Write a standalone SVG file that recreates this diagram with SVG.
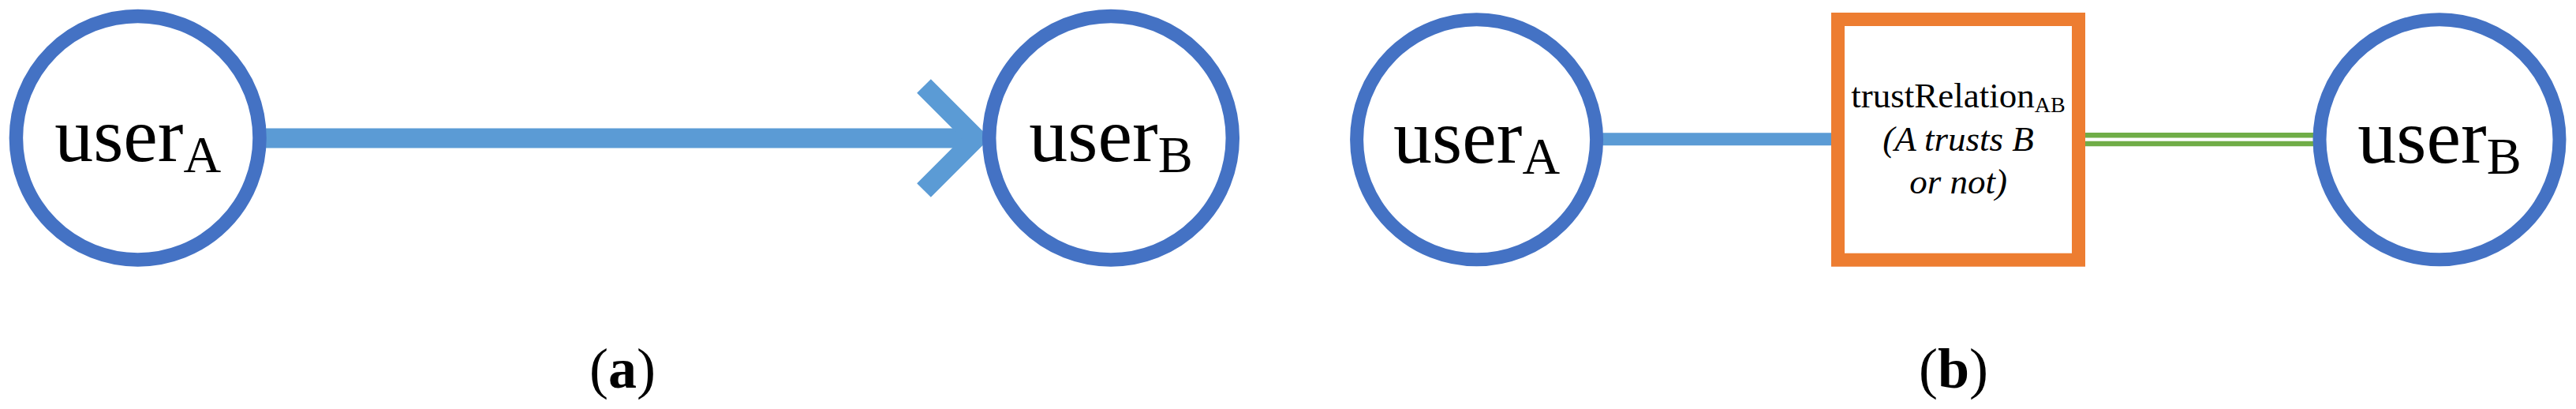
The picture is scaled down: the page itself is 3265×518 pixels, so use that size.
<svg xmlns="http://www.w3.org/2000/svg" width="3265" height="518" viewBox="0 0 3265 518">
<style>
.user{fill:#FFFFFF;stroke:#4472C4;stroke-width:17.5}
.t{font-family:"Liberation Serif","Times New Roman",serif;fill:#000000}
.big{font-size:98px}
.sub{font-size:66px}
.rel{fill:#FFFFFF;stroke:#ED7D31;stroke-width:17}
.edge{fill:none;stroke:#5B9BD5;stroke-linecap:butt}
.green{fill:none;stroke:#70AD47;stroke-width:6.5}
.cap{font-size:72px}
</style>
<rect width="3265" height="518" fill="#FFFFFF"/>
<g id="connectors">
  <line class="edge" x1="330" y1="175" x2="1237" y2="175" stroke-width="25"/>
  <path class="edge" d="M1171,109 L1237,175 L1171,241" stroke-width="25" stroke-linejoin="miter"/>
  <line class="edge" x1="2025" y1="176.3" x2="2325" y2="176.3" stroke-width="16"/>
  <line class="green" x1="2640" y1="171.3" x2="2936" y2="171.3"/>
  <line class="green" x1="2640" y1="182" x2="2936" y2="182"/>
</g>
<g id="a-userA">
  <circle class="user" cx="174.7" cy="174.7" r="154.3"/>
  <text class="t big" x="174.7" y="204" text-anchor="middle">user<tspan class="sub" dy="14">A</tspan></text>
</g>
<g id="a-userB">
  <circle class="user" cx="1408" cy="174.7" r="154.3"/>
  <text class="t big" x="1408" y="204" text-anchor="middle">user<tspan class="sub" dy="14">B</tspan></text>
</g>
<g id="b-userA">
  <circle class="user" cx="1871.6" cy="176.8" r="152" style="stroke-width:17"/>
  <text class="t big" x="1871.6" y="206" text-anchor="middle">user<tspan class="sub" dy="13.5">A</tspan></text>
</g>
<g id="b-trustRelation">
  <rect class="rel" x="2329.5" y="24.5" width="305" height="304.7"/>
  <text class="t" x="2482" y="136" text-anchor="middle" font-size="45">trustRelation<tspan font-size="28" dy="5.7">AB</tspan></text>
  <text class="t" x="2482" y="191" text-anchor="middle" font-size="45" font-style="italic">(A trusts B</text>
  <text class="t" x="2482" y="245" text-anchor="middle" font-size="45" font-style="italic">or not)</text>
</g>
<g id="b-userB">
  <circle class="user" cx="3092" cy="176.8" r="152" style="stroke-width:17"/>
  <text class="t big" x="3092" y="206" text-anchor="middle">user<tspan class="sub" dy="13.5">B</tspan></text>
</g>
<g id="captions">
  <text class="t cap" x="789" y="491" text-anchor="middle">(<tspan font-weight="bold">a</tspan>)</text>
  <text class="t cap" x="2476" y="491" text-anchor="middle">(<tspan font-weight="bold">b</tspan>)</text>
</g>
</svg>
